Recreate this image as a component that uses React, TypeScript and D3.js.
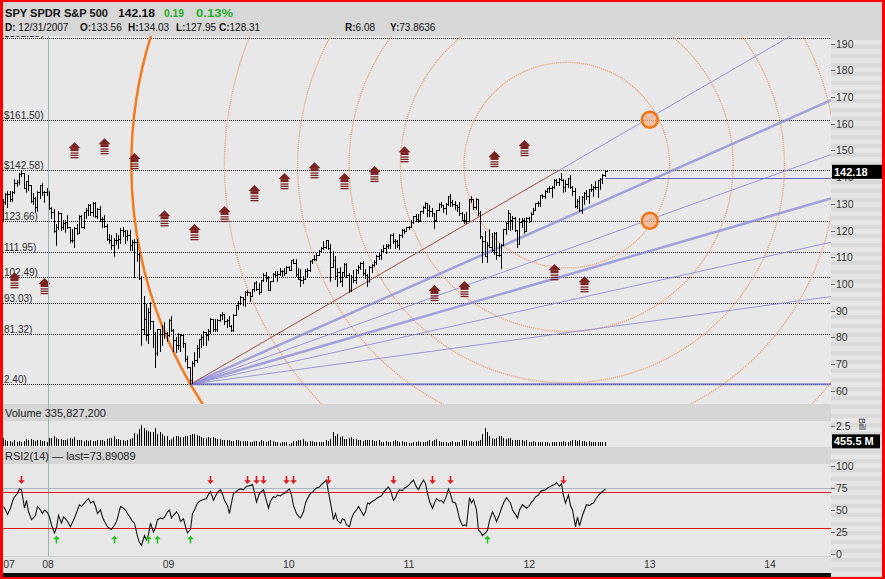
import React, { useRef, useEffect } from 'react';
import * as d3 from 'd3';

const W = 885;
const H = 579;

// weekly bars, first one is the week ending 2007-08-17
const firstBar = new Date(2007, 7, 17);
const firstOpen = 126.5;

const closes = [
   130.8, 133.6, 133.6, 131.9, 134.4, 138.0, 138.1, 141.2, 141.5, 136.0, 138.4, 137.2, 131.2, 132.3, 128.9, 134.6, 137.0, 134.6, 134.5, 134.8,
   128.3, 127.0, 119.8, 121.2, 126.6, 121.3, 122.7, 123.1, 121.4, 116.5, 116.4, 121.0, 119.2, 125.5, 121.5, 126.8, 127.8, 129.4, 126.8, 130.3, 125.5, 128.2, 124.2, 124.3, 121.6, 116.9,
   116.3, 114.4, 116.5, 116.6, 116.7, 120.3, 119.7, 118.0, 118.5, 114.6, 115.6, 115.6, 111.3, 102.3, 83.2, 87.0, 80.8, 89.5, 86.0, 81.3, 74.0, 83.2, 81.3, 81.4, 81.6, 80.8,
   86.4, 82.9, 79.1, 77.3, 77.0, 80.9, 77.8, 72.0, 68.7, 64.0, 70.5, 71.6, 75.9, 79.4, 80.2, 81.9, 81.0, 82.4, 87.0, 83.1, 83.0, 86.5, 88.5, 88.6, 86.0, 86.5,
   84.4, 82.8, 88.4, 92.0, 92.9, 95.0, 94.4, 96.9, 96.8, 95.6, 98.0, 100.3, 98.1, 96.9, 101.4, 103.2, 102.2, 97.9, 101.0, 103.6, 103.5, 103.7, 104.9, 104.7, 104.1, 106.4, 105.3,
   108.9, 107.9, 103.7, 102.0, 101.4, 101.7, 104.9, 105.2, 108.5, 109.3, 109.3, 110.9, 112.5, 113.6, 114.0, 116.3, 113.5, 106.3, 108.8, 103.1, 104.5, 101.2, 104.3, 107.5, 103.5, 97.7,
   102.7, 101.5, 105.1, 106.5, 107.9, 104.0, 103.2, 102.6, 106.5, 107.0, 108.4, 110.6, 111.0, 112.4, 113.6, 114.2, 114.4, 118.5, 116.0, 116.1, 114.7, 118.5, 120.1, 120.0, 121.2, 121.4,
   123.2, 125.4, 124.5, 123.9, 127.3, 129.0, 130.4, 127.8, 127.3, 126.5, 124.0, 127.7, 129.9, 129.5, 128.6, 130.1, 133.0, 130.8, 130.1, 129.7, 128.7, 126.4, 124.1, 123.9, 123.7, 131.7,
   131.7, 129.0, 131.7, 126.7, 117.9, 116.2, 110.3, 114.7, 114.0, 112.8, 119.1, 110.9, 110.9, 114.5, 120.5, 122.7, 126.7, 124.0, 124.8, 120.1, 114.9, 123.1, 124.1, 119.8, 124.7, 123.6,
   126.3, 127.8, 130.2, 130.3, 133.4, 133.1, 135.0, 135.8, 135.8, 136.2, 138.9, 138.3, 139.4, 139.1, 136.4, 137.4, 139.6, 136.2, 135.0, 129.1, 131.1, 127.6, 132.4, 134.2, 133.0, 135.4, 135.5, 136.5, 136.5, 138.9, 139.4, 140.8, 142.18,
];

const highs = [
   131.7, 133.9, 134.7, 134.8, 134.7, 139.4, 138.9, 141.4, 142.5, 141.6, 138.5, 140.7, 137.1, 133.9, 132.6, 134.7, 137.1, 138.0, 134.8, 136.0,
   134.0, 128.8, 127.9, 122.4, 127.4, 126.1, 123.8, 123.8, 125.9, 121.5, 120.6, 121.4, 122.4, 126.0, 125.8, 126.9, 128.3, 130.1, 129.9, 130.7, 130.6, 128.6, 129.2, 125.1, 126.0, 122.3,
   118.7, 118.2, 117.3, 119.1, 118.2, 121.0, 121.3, 120.1, 120.1, 120.3, 116.4, 116.8, 116.8, 111.9, 103.1, 95.3, 92.5, 91.1, 93.4, 86.0, 81.9, 83.3, 83.3, 84.6, 85.6, 81.9,
   87.0, 87.9, 83.2, 80.0, 81.8, 81.4, 81.4, 77.7, 73.0, 68.4, 71.1, 74.4, 77.2, 79.5, 80.9, 82.3, 81.8, 83.0, 87.4, 86.5, 87.0, 86.8, 88.8, 89.3, 88.4, 87.0,
   87.9, 84.6, 88.8, 92.1, 93.5, 95.4, 95.2, 97.3, 97.8, 96.8, 98.2, 100.6, 101.1, 100.2, 101.6, 104.0, 104.4, 103.0, 101.1, 104.0, 104.9, 104.9, 105.8, 105.4, 105.8, 106.6, 106.8,
   109.1, 109.4, 109.3, 105.9, 105.5, 103.1, 105.5, 105.9, 108.8, 109.5, 110.7, 111.6, 112.7, 113.8, 116.0, 116.5, 116.6, 115.1, 112.2, 110.3, 106.0, 106.5, 104.6, 107.7, 107.9, 104.2,
   103.2, 105.1, 105.6, 107.0, 108.3, 108.5, 105.6, 103.7, 106.6, 107.5, 109.0, 110.9, 111.5, 112.9, 114.4, 114.8, 114.8, 118.7, 119.2, 116.8, 116.3, 118.7, 120.4, 120.6, 121.4, 121.8,
   123.9, 125.5, 126.1, 126.1, 127.4, 129.2, 130.7, 130.5, 129.5, 128.5, 126.6, 127.8, 130.2, 130.7, 129.5, 130.3, 133.1, 133.8, 131.6, 131.1, 129.7, 130.7, 126.8, 126.3, 126.8, 131.8,
   133.0, 131.3, 132.3, 131.8, 127.4, 117.1, 120.0, 115.6, 120.5, 119.1, 119.3, 119.6, 115.2, 114.8, 120.7, 123.1, 127.6, 126.1, 125.6, 125.1, 119.7, 124.6, 124.6, 124.6, 124.9, 125.1,
   127.1, 128.4, 130.4, 131.2, 133.5, 133.7, 135.1, 136.1, 136.8, 136.6, 139.4, 139.4, 139.6, 141.5, 139.3, 138.8, 139.8, 140.8, 136.8, 135.8, 131.8, 132.8, 132.8, 134.3, 135.3, 135.6, 137.5, 136.8, 138.5, 139.0, 139.5, 141.0, 142.3,
];

const lows = [
   124.0, 130.1, 129.0, 131.2, 131.2, 133.9, 136.7, 137.4, 140.3, 135.8, 134.4, 135.3, 130.8, 129.9, 127.2, 127.4, 132.1, 133.5, 130.8, 133.3,
   128.0, 124.7, 119.3, 114.7, 120.6, 120.2, 120.6, 119.3, 121.1, 115.6, 115.6, 113.8, 118.6, 119.1, 121.2, 121.0, 124.6, 125.8, 126.0, 125.5, 125.1, 124.6, 123.7, 121.4, 121.4, 116.4,
   115.5, 113.2, 110.4, 115.0, 113.6, 115.5, 117.8, 115.5, 116.4, 112.7, 112.7, 102.6, 108.6, 101.8, 77.2, 81.4, 79.1, 77.7, 83.3, 76.3, 68.7, 73.5, 74.9, 77.2, 79.6, 78.6,
   80.4, 82.3, 74.9, 74.4, 75.8, 74.9, 76.3, 71.1, 68.4, 62.4, 62.8, 69.3, 70.7, 72.5, 76.2, 77.1, 77.1, 79.0, 81.8, 82.3, 82.3, 82.3, 86.0, 87.0, 85.1, 83.7,
   84.1, 82.3, 82.3, 88.4, 90.7, 92.6, 92.1, 91.7, 95.9, 93.5, 95.4, 97.3, 97.8, 96.4, 96.9, 101.1, 101.1, 97.8, 97.8, 101.6, 102.5, 101.1, 103.5, 103.0, 103.5, 104.0, 105.2,
   106.9, 107.8, 103.1, 101.7, 99.3, 100.2, 102.1, 103.1, 105.0, 107.8, 108.8, 108.8, 111.3, 112.2, 113.2, 113.6, 113.2, 101.2, 107.0, 101.7, 99.3, 100.8, 99.3, 103.1, 102.7, 97.1,
   97.4, 100.8, 100.3, 104.2, 105.6, 103.2, 102.2, 99.4, 100.8, 104.6, 106.6, 107.5, 109.5, 109.5, 111.9, 111.5, 113.4, 113.4, 115.3, 113.4, 113.9, 112.9, 117.7, 119.2, 119.7, 120.6,
   121.7, 122.7, 123.7, 123.2, 123.7, 126.6, 128.5, 125.6, 125.6, 125.6, 120.8, 123.7, 128.2, 128.7, 126.8, 126.3, 129.7, 129.2, 129.2, 128.2, 127.2, 125.8, 123.8, 122.9, 122.9, 124.5,
   130.8, 127.9, 127.9, 125.9, 117.1, 108.1, 110.3, 108.3, 113.7, 112.2, 111.2, 109.3, 110.3, 105.8, 114.8, 118.7, 120.7, 120.2, 120.7, 119.7, 114.0, 116.2, 121.2, 119.2, 119.7, 123.1,
   125.2, 126.2, 127.7, 129.2, 129.2, 132.2, 132.2, 134.6, 134.6, 132.7, 136.1, 137.1, 137.1, 138.8, 134.3, 134.8, 136.3, 135.8, 133.3, 128.9, 128.4, 127.4, 126.5, 129.8, 131.8, 130.3, 135.0, 133.0, 135.5, 132.5, 135.5, 138.0, 140.5,
];

// weekly volume, millions of shares
const volumes = [
   1000, 700, 600, 620, 560, 700, 520, 600, 560, 640, 820, 720, 900, 780, 620, 780, 700, 680, 640, 450,
   1050, 980, 1200, 950, 900, 820, 700, 760, 820, 1000, 880, 1100, 780, 760, 700, 650, 720, 680, 700, 620, 640, 700, 720, 760, 680, 900,
   1000, 1050, 1200, 880, 900, 750, 700, 650, 720, 900, 1050, 1600, 1450,
   2100, 2600, 2200, 2000, 1900, 1700, 1800, 2300, 1500, 1700, 1500, 1300, 1200, 800,
   900, 1100, 1300, 1200, 1100, 1150, 1200, 1300, 1400, 1500, 1450, 1350, 1200,
   1150, 1000, 1050, 1100, 950, 1100, 1000, 900, 850, 800, 700, 750, 800, 650, 600, 750, 700, 620, 680, 600, 640, 550, 500, 580, 600, 560,
   700, 620, 560, 600, 750, 650, 560, 520, 400, 560, 520, 480, 300, 360, 600, 620, 800, 760, 820, 600, 560, 580, 650, 560, 520, 560,
   480, 560, 720, 640, 860, 1700, 1300, 1500, 1100, 1200, 900, 850, 1000, 1100, 850, 900, 800, 700, 650, 780, 700, 800, 700, 600, 620, 700,
   560, 520, 600, 540, 560, 620, 700, 580, 480, 600, 520, 450, 400, 350, 560, 540, 600, 560, 540, 520, 600, 700, 650, 720, 900, 650,
   500, 480, 560, 420, 460, 600, 560, 520, 480, 700, 760, 700, 680, 620, 560, 600, 640, 800, 1500, 2300, 1800, 1200, 1000, 900, 1050, 1200,
   1300, 1000, 900, 1000, 950, 800, 700, 750, 700, 800, 650, 700, 500, 450, 600, 550, 520, 560, 550, 450, 500, 400, 520, 480, 560, 500,
   460, 620, 560, 520, 600, 700, 760, 620, 700, 640, 620, 560, 600, 520, 460, 500, 560, 480, 450, 455.5,
];

const rsiValues = [
   54, 50, 45, 52, 60, 65, 69, 74, 73, 52, 61, 48, 39, 41, 44, 54, 50, 46, 50, 47,
   42, 33, 24, 30, 44, 35, 42, 40, 37, 31, 36, 41, 50, 56, 54, 58, 61, 63, 58, 60,
   54, 46, 50, 42, 37, 31, 29, 28, 33, 37, 45, 54, 52, 50, 46, 41, 37, 35, 20, 13,
   10, 21, 16, 22, 35, 25, 30, 39, 41, 40, 42, 48, 50, 41, 44, 48, 45, 37, 40, 31,
   24, 28, 46, 50, 58, 60, 61, 62, 63, 68, 71, 61, 66, 70, 73, 68, 61, 55, 46, 58,
   69, 71, 73, 74, 73, 76, 77, 78, 79, 70, 59, 69, 71, 73, 60, 52, 60, 65, 64, 67,
   66, 68, 69, 71, 74, 67, 55, 46, 43, 41, 48, 58, 63, 69, 70, 73, 75, 76, 79, 81,
   84, 70, 58, 39, 46, 38, 35, 40, 39, 33, 31, 40, 46, 50, 54, 50, 44, 48, 58, 57,
   60, 61, 63, 65, 66, 70, 74, 76, 72, 61, 64, 70, 73, 72, 75, 76, 79, 82, 84, 76,
   73, 78, 84, 80, 69, 60, 52, 58, 63, 60, 61, 58, 66, 74, 68, 59, 58, 50, 40, 32,
   33, 32, 64, 58, 62, 50, 27, 25, 21, 24, 27, 38, 48, 43, 37, 45, 52, 58, 64, 61,
   58, 50, 45, 41, 50, 56, 54, 52, 55, 59, 61, 65, 67, 71, 72, 73, 75, 76, 78, 79,
   81, 77, 80, 66, 58, 67, 55, 50, 31, 42, 32, 44, 50, 56, 55, 57, 58, 62, 67, 69,
   71, 74,
];

// fibonacci retracement of the 2009 low -> 2007 high swing
const fibLevels = [192.13, 161.50, 142.58, 123.66, 111.95, 102.49, 93.03, 81.32, 62.40];
// only the right end of each label fits inside the frame
const fibLabels = ['$192.13)', '$161.50)', '$142.58)', '123.66)', '111.95)', '102.49)', '93.03)', '81.32)', '2.40)'];

// speed lines from the March 2009 low through the fib levels
const pivotBar = 81;
const pivotPrice = 62.40;
const fanAnchorDate = new Date(2012, 3, 1);
const fanLevels = [142.58, 123.66, 111.95, 102.49, 93.03, 81.32, 62.40];
const fanWidths = [1, 2.5, 1, 2.5, 1, 1, 2];

// fibonacci circles
const circleCenterDate = new Date(2012, 3, 24);
const circleCenterPrice = 144.5;
const circleRatios = [0.236, 0.382, 0.5, 0.618, 0.786, 1];

const targetDate = new Date(2013, 0, 1);
const targetPrices = [161.50, 123.66];
const rayPrice = 139.7;

// quarterly cycle markers
const signalBars = [5, 18, 31, 44, 57, 70, 83, 96, 109, 122, 135, 148, 161, 174, 187, 200, 213, 226, 239, 252];
const signalPrices = [101.8, 99.6, 150.5, 152.0, 146.4, 125.0, 119.8, 126.6, 134.4, 138.9, 143.0, 138.9, 141.6, 149.0, 97.0, 98.5, 147.2, 151.3, 104.8, 100.3];

const rsiSellBars = [8, 90, 106, 110, 113, 123, 126, 141, 169, 186, 194, 243];
const rsiBuyBars = [23, 48, 63, 67, 81, 210];

const priceTicks = [190, 180, 170, 160, 150, 140, 130, 120, 110, 100, 90, 80, 70, 60];
const rsiTicks = [100, 75, 50, 25, 0];
const rsiBands = [70, 30];
const yearTicks = [2008, 2009, 2010, 2011, 2012, 2013, 2014];

// header read-outs for the bar under the cursor
const quoteFields = [
   { label: 'D:', value: ' 12/31/2007', at: 5 },
   { label: 'O:', value: '133.56', at: 80 },
   { label: 'H:', value: '134.03', at: 128 },
   { label: 'L:', value: '127.95', at: 176 },
   { label: 'C:', value: '128.31', at: 219 },
   { label: 'R:', value: '6.08', at: 345 },
   { label: 'Y:', value: '73.8636', at: 390 },
];

const App: React.FC = () => {
   const svgRef = useRef<SVGSVGElement | null>(null);

   useEffect(() => {
      if (!svgRef.current) return;
      const svg = d3.select(svgRef.current);
      svg.selectAll('*').remove();

      const font = "'Liberation Sans', Arial, sans-serif";
      const left = 3;
      const right = 831;
      const axisRight = 882;
      const priceTop = 36;
      const priceBottom = 404;

      const x = d3.scaleTime()
         .domain([new Date(2008, 0, 1), new Date(2014, 0, 1)])
         .range([48, 770]);
      const y = d3.scaleLinear().domain([60, 190]).range([390.7, 43.7]);
      const yVol = d3.scaleLinear().domain([0, 2500]).range([446, 426]);
      const yRsi = d3.scaleLinear().domain([0, 100]).range([554, 466]);

      const barDate = (i: number) => d3.timeDay.offset(firstBar, 7 * i);
      const bx = (i: number) => Math.round(x(barDate(i))) + 0.5;
      const snap = (v: number) => Math.round(v) + 0.5;

      // backgrounds
      svg.append('rect').attr('width', W).attr('height', H).attr('fill', '#e4e4e4');
      const panel = (y0: number, h: number, fill: string) =>
         svg.append('rect')
            .attr('x', left).attr('y', y0)
            .attr('width', right - left).attr('height', h)
            .attr('fill', fill);
      panel(priceTop, priceBottom - priceTop, '#e8e8e8');
      panel(404, 17, '#d5d5d5');
      panel(421, 26, '#e7e7e7');
      panel(447, 17, '#d5d5d5');
      panel(464, 92, '#e7e7e7');
      panel(556, 17, '#e2e2e2');
      panel(573, 4, '#101010');

      // right axis column with its stripes
      svg.append('rect')
         .attr('x', right).attr('y', priceTop)
         .attr('width', axisRight - right).attr('height', H - priceTop)
         .attr('fill', '#e6e6e6');
      d3.range(priceTop, H, 9).forEach((yy) => {
         svg.append('rect')
            .attr('x', right).attr('y', yy)
            .attr('width', axisRight - right).attr('height', 4)
            .attr('fill', '#d9d9d9');
      });

      const defs = svg.append('defs');
      defs.append('clipPath').attr('id', 'price-clip')
         .append('rect')
         .attr('x', left).attr('y', priceTop)
         .attr('width', right - left).attr('height', priceBottom - priceTop);

      const pg = svg.append('g').attr('clip-path', 'url(#price-clip)');

      // retracement levels
      fibLevels.forEach((lv, k) => {
         const yy = snap(y(lv));
         pg.append('line')
            .attr('x1', left).attr('x2', right)
            .attr('y1', yy).attr('y2', yy)
            .attr('stroke', '#1c1c1c')
            .attr('stroke-dasharray', '1,1');
         pg.append('text')
            .attr('x', 4).attr('y', yy - 1.5)
            .attr('font-family', font).attr('font-size', 10)
            .attr('fill', '#2a2a2a')
            .text(fibLabels[k]);
      });

      // fibonacci circles
      const cx = x(circleCenterDate);
      const cy = y(circleCenterPrice);
      const px = bx(pivotBar);
      const py = y(pivotPrice);
      const radius = Math.hypot(px - cx, py - cy);
      circleRatios.forEach((r) => {
         const full = r === 1;
         pg.append('circle')
            .attr('cx', cx).attr('cy', cy).attr('r', radius * r)
            .attr('fill', 'none')
            .attr('stroke', full ? '#f57a1e' : '#ee9a64')
            .attr('stroke-width', full ? 2.5 : 1.4)
            .attr('stroke-opacity', full ? 1 : 0.8)
            .attr('stroke-dasharray', full ? null : '1.2,0.9');
      });

      // speed lines
      const ax = x(fanAnchorDate);
      fanLevels.forEach((lv, k) => {
         const m = (y(lv) - py) / (ax - px);
         pg.append('line')
            .attr('x1', px).attr('y1', py)
            .attr('x2', right).attr('y2', py + m * (right - px))
            .attr('stroke', k === fanLevels.length - 1 ? '#6f6fc4' : '#8a8ad6')
            .attr('stroke-opacity', fanWidths[k] > 2 ? 0.75 : 0.85)
            .attr('stroke-width', fanWidths[k]);
      });
      pg.append('line')
         .attr('x1', px).attr('y1', py)
         .attr('x2', ax).attr('y2', y(fanLevels[0]))
         .attr('stroke', '#b86a4c').attr('stroke-width', 1);

      const lastX = bx(closes.length - 1);
      pg.append('line')
         .attr('x1', lastX).attr('x2', right)
         .attr('y1', snap(y(rayPrice))).attr('y2', snap(y(rayPrice)))
         .attr('stroke', '#6464bc').attr('stroke-width', 1);

      // OHLC bars
      let ohlc = '';
      closes.forEach((c, i) => {
         const xx = bx(i);
         const o = i === 0 ? firstOpen : closes[i - 1];
         const hi = Math.max(highs[i], o, c);
         const lo = Math.min(lows[i], o, c);
         ohlc += `M${xx},${Math.round(y(hi))}V${Math.round(y(lo)) + 1}`;
         ohlc += `M${xx - 2},${snap(y(o))}H${xx}`;
         ohlc += `M${xx},${snap(y(c))}H${xx + 2}`;
      });
      pg.append('path')
         .attr('d', ohlc)
         .attr('fill', 'none')
         .attr('stroke', '#000')
         .attr('stroke-width', 1)
         .attr('shape-rendering', 'crispEdges');

      // cycle markers
      signalBars.forEach((b, k) => {
         const g = pg.append('g')
            .attr('transform', `translate(${bx(b)},${y(signalPrices[k])})`)
            .attr('fill', '#7a2323');
         g.append('path').attr('d', 'M-6,-1L0,-7L6,-1Z');
         g.append('rect').attr('x', -4).attr('y', -1).attr('width', 8).attr('height', 3);
         [3.3, 5.6, 7.9].forEach((dy) => {
            g.append('rect').attr('x', -4).attr('y', dy).attr('width', 8).attr('height', 1.3);
         });
      });

      targetPrices.forEach((p) => {
         pg.append('circle')
            .attr('cx', x(targetDate)).attr('cy', y(p)).attr('r', 8)
            .attr('fill', '#f4b289').attr('fill-opacity', 0.75)
            .attr('stroke', '#f07412').attr('stroke-width', 2.5);
      });

      // date cursor
      svg.append('line')
         .attr('x1', snap(x(new Date(2007, 11, 31)))).attr('x2', snap(x(new Date(2007, 11, 31))))
         .attr('y1', priceTop).attr('y2', 556)
         .attr('stroke', '#a2b2ba').attr('stroke-width', 1);

      // volume
      let vol = '';
      volumes.forEach((v, i) => {
         vol += `M${bx(i)},${yVol(0)}V${Math.round(yVol(v))}`;
      });
      svg.append('path')
         .attr('d', vol)
         .attr('stroke', '#000')
         .attr('stroke-width', 1)
         .attr('shape-rendering', 'crispEdges');

      // RSI
      svg.append('line')
         .attr('x1', left).attr('x2', right)
         .attr('y1', snap(yRsi(75))).attr('y2', snap(yRsi(75)))
         .attr('stroke', '#a8b6c4');
      rsiBands.forEach((b) => {
         svg.append('line')
            .attr('x1', left).attr('x2', right)
            .attr('y1', snap(yRsi(b))).attr('y2', snap(yRsi(b)))
            .attr('stroke', '#e01414').attr('stroke-width', 1.2);
      });
      const rsiLine = d3.line<number>()
         .x((_, i) => bx(i))
         .y((v) => yRsi(v));
      svg.append('path')
         .attr('d', rsiLine(rsiValues))
         .attr('fill', 'none')
         .attr('stroke', '#161616')
         .attr('stroke-width', 1.1);

      rsiSellBars.forEach((b) => {
         svg.append('path')
            .attr('transform', `translate(${bx(b)},480)`)
            .attr('d', 'M0,4L-3.2,0.3H-0.8V-4H0.8V0.3H3.2Z')
            .attr('fill', '#e01818');
      });
      rsiBuyBars.forEach((b) => {
         svg.append('path')
            .attr('transform', `translate(${bx(b)},539.5)`)
            .attr('d', 'M0,-4L-3.2,-0.3H-0.8V4H0.8V-0.3H3.2Z')
            .attr('fill', '#22c222');
      });

      // right axis labels
      const tick = (yy: number, label: string) => {
         svg.append('line')
            .attr('x1', right).attr('x2', right + 4)
            .attr('y1', snap(yy)).attr('y2', snap(yy))
            .attr('stroke', '#666');
         svg.append('text')
            .attr('x', right + 5).attr('y', yy + 4)
            .attr('font-family', font).attr('font-size', 10.5)
            .attr('fill', '#333')
            .text(label);
      };
      priceTicks.forEach((t) => tick(y(t), String(t)));
      rsiTicks.forEach((t) => tick(yRsi(t), String(t)));
      tick(yVol(2500), '2.5');
      svg.append('text')
         .attr('transform', 'translate(859,418) rotate(90)')
         .attr('font-family', font).attr('font-size', 9)
         .attr('fill', '#333')
         .text('Bill');

      const badge = (yc: number, label: string, w: number) => {
         svg.append('rect')
            .attr('x', right + 1).attr('y', yc - 7)
            .attr('width', w).attr('height', 14)
            .attr('fill', '#000');
         svg.append('text')
            .attr('x', right + 3).attr('y', yc + 4)
            .attr('font-family', font).attr('font-size', 11).attr('font-weight', 'bold')
            .attr('fill', '#fff')
            .text(label);
      };
      badge(y(closes[closes.length - 1]) + 0.5, '142.18', 50);
      badge(yVol(volumes[volumes.length - 1]) - 1, '455.5 M', 48);

      // x axis
      svg.append('line')
         .attr('x1', left).attr('x2', right)
         .attr('y1', 556.5).attr('y2', 556.5)
         .attr('stroke', '#cfcfcf');
      svg.append('text')
         .attr('x', 9).attr('y', 568)
         .attr('text-anchor', 'middle')
         .attr('font-family', font).attr('font-size', 10.5)
         .attr('fill', '#333')
         .text('07');
      yearTicks.forEach((yr) => {
         svg.append('text')
            .attr('x', x(new Date(yr, 0, 1))).attr('y', 568)
            .attr('text-anchor', 'middle')
            .attr('font-family', font).attr('font-size', 10.5)
            .attr('fill', '#333')
            .text(String(yr).slice(2));
      });

      // panel titles
      svg.append('text')
         .attr('x', 5).attr('y', 417)
         .attr('font-family', font).attr('font-size', 11)
         .attr('fill', '#222')
         .text('Volume 335,827,200');
      svg.append('text')
         .attr('x', 5).attr('y', 460)
         .attr('font-family', font).attr('font-size', 11)
         .attr('fill', '#222')
         .text('RSI2(14) \u2014 last=73.89089');

      // header
      svg.append('rect')
         .attr('x', 0).attr('y', 0)
         .attr('width', W).attr('height', priceTop)
         .attr('fill', '#d7d7d7');
      const headItem = (tx: number, len: number, label: string, fill: string) => {
         svg.append('text')
            .attr('x', tx).attr('y', 16.5)
            .attr('font-family', font).attr('font-size', 11.5).attr('font-weight', 'bold')
            .attr('textLength', len).attr('lengthAdjust', 'spacingAndGlyphs')
            .attr('fill', fill)
            .text(label);
      };
      headItem(5, 103, 'SPY SPDR S&P 500', '#111');
      headItem(118, 37, '142.18', '#111');
      headItem(164, 20, '0.19', '#1fae1f');
      headItem(196, 37, '0.13%', '#1fae1f');

      quoteFields.forEach((f) => {
         const t = svg.append('text')
            .attr('x', f.at).attr('y', 31)
            .attr('font-family', font).attr('font-size', 10)
            .attr('fill', '#111');
         t.append('tspan').attr('font-weight', 'bold').text(f.label);
         t.append('tspan').text(f.value);
      });

      // red frame
      svg.append('rect').attr('x', 0).attr('y', 0).attr('width', 3).attr('height', H).attr('fill', '#f00');
      svg.append('rect').attr('x', axisRight).attr('y', 0).attr('width', W - axisRight).attr('height', H).attr('fill', '#f00');
      svg.append('rect').attr('x', 0).attr('y', 0).attr('width', W).attr('height', 2).attr('fill', '#f00');
      svg.append('rect').attr('x', 0).attr('y', 577).attr('width', W).attr('height', 2).attr('fill', '#f00');
   }, []);

   return (
      <div style={{ position: 'absolute', left: 0, top: 0, width: W, height: H }}>
         <svg ref={svgRef} width={W} height={H} style={{ display: 'block' }} />
      </div>
   );
};

export default App;
